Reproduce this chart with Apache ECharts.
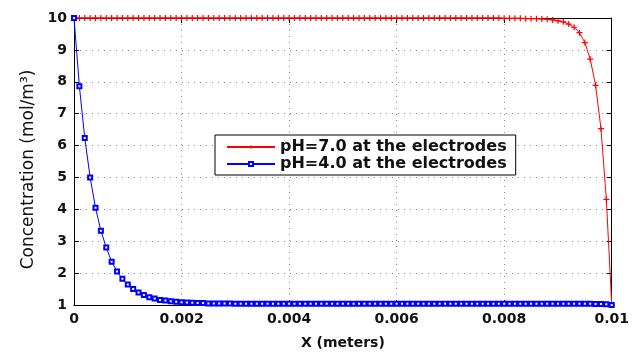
<!DOCTYPE html>
<html>
<head>
<meta charset="utf-8">
<script src="https://cdn.jsdelivr.net/npm/echarts@6/dist/echarts.min.js"></script>
<style>
  html, body { margin: 0; padding: 0; background: #fff; }
  #chart { width: 632px; height: 355px; }
</style>
</head>
<body>
<div id="chart"></div>
<script>
// x positions of the samples (meters)
const xValues = [
  0, 0.0001, 0.0002, 0.0003, 0.0004, 0.0005, 0.0006, 0.0007, 0.0008, 0.0009,
  0.0010, 0.0011, 0.0012, 0.0013, 0.0014, 0.0015, 0.0016, 0.0017, 0.0018, 0.0019,
  0.0020, 0.0021, 0.0022, 0.0023, 0.0024, 0.0025, 0.0026, 0.0027, 0.0028, 0.0029,
  0.0030, 0.0031, 0.0032, 0.0033, 0.0034, 0.0035, 0.0036, 0.0037, 0.0038, 0.0039,
  0.0040, 0.0041, 0.0042, 0.0043, 0.0044, 0.0045, 0.0046, 0.0047, 0.0048, 0.0049,
  0.0050, 0.0051, 0.0052, 0.0053, 0.0054, 0.0055, 0.0056, 0.0057, 0.0058, 0.0059,
  0.0060, 0.0061, 0.0062, 0.0063, 0.0064, 0.0065, 0.0066, 0.0067, 0.0068, 0.0069,
  0.0070, 0.0071, 0.0072, 0.0073, 0.0074, 0.0075, 0.0076, 0.0077, 0.0078, 0.0079,
  0.0080, 0.0081, 0.0082, 0.0083, 0.0084, 0.0085, 0.0086, 0.0087, 0.0088, 0.0089,
  0.0090, 0.0091, 0.0092, 0.0093, 0.0094, 0.0095, 0.0096, 0.0097, 0.0098, 0.0099,
  0.0100
];

// pH=7.0 at the electrodes (red, + markers)
const ph7Values = [
  10, 10, 10, 10, 10, 10, 10, 10, 10, 10,
  10, 10, 10, 10, 10, 10, 10, 10, 10, 10,
  10, 10, 10, 10, 10, 10, 10, 10, 10, 10,
  10, 10, 10, 10, 10, 10, 10, 10, 10, 10,
  10, 10, 10, 10, 10, 10, 10, 10, 10, 10,
  10, 10, 10, 10, 10, 10, 10, 10, 10, 10,
  10, 10, 10, 10, 10, 10, 10, 10, 10, 10,
  10, 10, 10, 10, 10, 10, 10, 10, 10, 10,
  9.99, 9.99, 9.99, 9.99, 9.98, 9.98, 9.98, 9.97, 9.96, 9.94,
  9.91, 9.88, 9.81, 9.71, 9.54, 9.23, 8.71, 7.89, 6.53, 4.31,
  1.0
];

// pH=4.0 at the electrodes (blue, square markers)
const ph4Values = [
  10, 7.86, 6.24, 5.00, 4.05, 3.33, 2.80, 2.36, 2.05, 1.82,
  1.64, 1.50, 1.39, 1.31, 1.24, 1.20, 1.16, 1.14, 1.12, 1.10,
  1.09, 1.08, 1.07, 1.06, 1.06, 1.05, 1.05, 1.05, 1.05, 1.05,
  1.04, 1.04, 1.04, 1.04, 1.04, 1.04, 1.04, 1.04, 1.04, 1.04,
  1.04, 1.04, 1.04, 1.04, 1.04, 1.04, 1.04, 1.04, 1.04, 1.04,
  1.04, 1.04, 1.04, 1.04, 1.04, 1.04, 1.04, 1.04, 1.04, 1.04,
  1.04, 1.04, 1.04, 1.04, 1.04, 1.04, 1.04, 1.04, 1.04, 1.04,
  1.04, 1.04, 1.04, 1.04, 1.04, 1.04, 1.04, 1.04, 1.04, 1.04,
  1.04, 1.04, 1.04, 1.04, 1.04, 1.04, 1.04, 1.04, 1.04, 1.04,
  1.04, 1.04, 1.04, 1.04, 1.04, 1.04, 1.04, 1.03, 1.03, 1.02,
  1.00
];

const seriesNames = ['pH=7.0 at the electrodes', 'pH=4.0 at the electrodes'];

const FONT = 'DejaVu Sans';
const plusSymbol = 'path://M2,0H3V2H5V3H3V5H2V3H0V2H2Z';

const chart = echarts.init(document.getElementById('chart'), null, { renderer: 'canvas' });

const gridDots = { show: true, lineStyle: { color: '#8a8a8a', type: [1, 5], width: 1 } };
const innerTicks = { show: true, inside: true, length: 5, lineStyle: { color: '#000' } };

chart.setOption({
  animation: false,
  backgroundColor: '#fff',
  grid: { left: 74, right: 17, top: 18, bottom: 45, containLabel: false },
  legend: {
    orient: 'vertical',
    left: 215,
    top: 135,
    data: seriesNames,
    backgroundColor: '#fff',
    borderColor: '#000',
    borderWidth: 1,
    padding: [4, 9, 3, 11],
    itemGap: 1,
    itemWidth: 48,
    itemHeight: 5,
    textStyle: { fontFamily: FONT, fontWeight: 'bold', fontSize: 16, color: '#111' }
  },
  xAxis: [
    {
      type: 'value',
      min: 0,
      max: 0.01,
      interval: 0.002,
      name: 'X (meters)',
      nameLocation: 'middle',
      nameGap: 31,
      nameTextStyle: { fontFamily: FONT, fontWeight: 'bold', fontSize: 14, color: '#111' },
      axisLine: { show: true, onZero: false, lineStyle: { color: '#000', width: 1 } },
      axisTick: innerTicks,
      axisLabel: { fontFamily: FONT, fontWeight: 'bold', fontSize: 14, color: '#111', margin: 7 },
      splitLine: gridDots
    },
    {
      type: 'value',
      position: 'top',
      min: 0,
      max: 0.01,
      interval: 0.002,
      axisLine: { show: true, onZero: false, lineStyle: { color: '#000', width: 1 } },
      axisTick: innerTicks,
      axisLabel: { show: false },
      splitLine: { show: false }
    }
  ],
  yAxis: [
    {
      type: 'value',
      min: 1,
      max: 10,
      interval: 1,
      name: 'Concentration (mol/m³)',
      nameLocation: 'middle',
      nameGap: 37,
      nameRotate: 90,
      nameTextStyle: { fontFamily: FONT, fontSize: 17, color: '#111', padding: [0, 16, 0, 0] },
      axisLine: { show: true, onZero: false, lineStyle: { color: '#000', width: 1 } },
      axisTick: innerTicks,
      axisLabel: { fontFamily: FONT, fontWeight: 'bold', fontSize: 14, color: '#111', margin: 7 },
      splitLine: gridDots
    },
    {
      type: 'value',
      position: 'right',
      min: 1,
      max: 10,
      interval: 1,
      axisLine: { show: true, onZero: false, lineStyle: { color: '#000', width: 1 } },
      axisTick: innerTicks,
      axisLabel: { show: false },
      splitLine: { show: false }
    }
  ],
  series: [
    {
      name: seriesNames[0],
      type: 'line',
      xAxisIndex: 0,
      yAxisIndex: 0,
      data: xValues.map((x, i) => [x, ph7Values[i]]),
      symbol: plusSymbol,
      symbolSize: 6,
      showAllSymbol: true,
      clip: false,
      color: '#ff0000',
      lineStyle: { color: '#ff0000', width: 1 },
      itemStyle: { color: '#ff0000', borderWidth: 0 },
      z: 3
    },
    {
      name: seriesNames[1],
      type: 'line',
      xAxisIndex: 0,
      yAxisIndex: 0,
      data: xValues.map((x, i) => [x, ph4Values[i]]),
      symbol: 'emptyRect',
      symbolSize: 4,
      showAllSymbol: true,
      clip: false,
      color: '#0000ff',
      lineStyle: { color: '#0000ff', width: 1 },
      itemStyle: { color: '#0000ff', borderColor: '#0000ff', borderWidth: 1 },
      z: 4
    }
  ]
});
</script>
</body>
</html>
